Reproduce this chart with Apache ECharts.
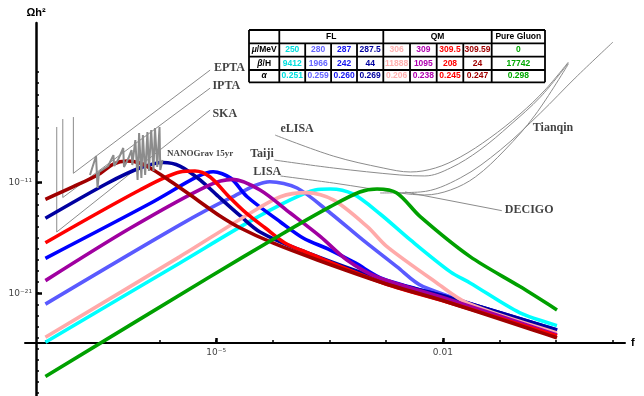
<!DOCTYPE html>
<html>
<head>
<meta charset="utf-8">
<script src="https://cdn.jsdelivr.net/npm/echarts@6/dist/echarts.min.js"></script>
<style>
  html, body { margin: 0; padding: 0; background: #fff; }
  #main { width: 644px; height: 396px; }
</style>
</head>
<body>
<div id="main"></div>
<script>
// every value below is a log10: x = log10(f), y = log10(Omega h^2)
const xTicks = [-7.25, -6.5, -5.75, -5, -4.25, -3.5, -2.75, -2, -1.25, -0.5, 0.25];
const xMajor = [-5, -2];
const yTicks = [-30, -29, -28, -27, -26, -25, -24, -23, -22, -21, -20, -19, -18, -17, -16,
  -15, -14, -13, -12, -11, -10, -9, -8, -7, -6, -5, -4, -3, -2, -1];
const yMajor = [-21, -11];

// FL
const cyan250 = [[-7.26,-25.43],[-5.48,-18.26],[-4.59,-14.64],[-4.02,-12.56],[-3.69,-11.66],[-3.49,-11.57],[-3.19,-12.02],[-2.83,-13.83],[-2.43,-16.18],[-1.90,-19.07],[-1.64,-20.07],[-0.98,-22.78],[-0.49,-23.93]];
const lblue280 = [[-7.26,-21.99],[-5.48,-14.82],[-4.81,-12.38],[-4.29,-10.91],[-3.93,-11.48],[-3.49,-13.74],[-3.06,-16.18],[-2.61,-18.59],[-2.26,-20.40],[-0.49,-24.41]];
const blue287 = [[-7.26,-17.84],[-5.87,-12.86],[-5.25,-10.46],[-5.04,-10.01],[-4.81,-10.58],[-4.59,-12.27],[-4.15,-14.55],[-3.85,-16.00],[-3.49,-17.09],[-3.16,-18.26],[-2.79,-19.71],[-1.90,-21.42],[-0.49,-24.32]];
const dblue2875 = [[-7.26,-14.22],[-6.44,-11.05],[-6.01,-9.67],[-5.70,-9.17],[-5.48,-9.49],[-5.21,-10.76],[-4.95,-12.38],[-4.68,-14.01],[-4.42,-15.46],[-3.89,-17.09],[-2.79,-19.80],[-1.90,-21.42],[-0.49,-24.32]];
// QM
const pink306 = [[-7.26,-24.98],[-5.48,-17.69],[-4.59,-13.92],[-4.15,-12.27],[-3.80,-11.90],[-3.45,-12.56],[-3.00,-14.98],[-2.74,-16.79],[-2.08,-20.07],[-1.68,-21.88],[-0.49,-24.59]];
const purple309 = [[-7.26,-19.86],[-6.14,-15.12],[-5.12,-11.30],[-4.78,-10.70],[-4.42,-11.66],[-4.02,-13.74],[-3.62,-15.88],[-3.27,-17.99],[-2.87,-19.53],[-1.90,-21.61],[-0.49,-24.77]];
const red3095 = [[-7.26,-16.43],[-6.01,-11.66],[-5.48,-10.03],[-5.28,-9.94],[-5.08,-10.48],[-4.84,-12.20],[-4.59,-13.83],[-4.35,-15.10],[-4.09,-16.45],[-3.82,-17.27],[-2.79,-20.07],[-1.90,-21.88],[-0.49,-24.86]];
const dred30959 = [[-7.26,-12.50],[-6.89,-11.36],[-6.57,-10.30],[-6.36,-9.31],[-6.18,-9.04],[-6.01,-9.22],[-5.83,-9.85],[-5.57,-11.03],[-5.25,-12.56],[-4.95,-14.01],[-4.68,-15.10],[-4.25,-16.45],[-3.66,-17.99],[-2.79,-20.07],[-1.90,-21.88],[-0.49,-25.04]];
// pure gluon
const green0 = [[-7.26,-28.54],[-5.11,-19.62],[-4.15,-15.73],[-3.49,-13.17],[-3.10,-11.84],[-2.87,-11.57],[-2.61,-11.93],[-2.30,-14.07],[-1.64,-17.69],[-0.98,-20.40],[-0.49,-22.51]];

// sensitivity curves
const epta = [[-6.89,-5.06],[-6.89,-10.15],[-5.08,-0.81]];
const ipta = [[-7.03,-5.24],[-7.03,-12.34],[-5.08,-2.44]];
const ska = [[-7.11,-5.96],[-7.11,-15.46],[-5.08,-4.43]];
const elisa = [[-4.22,-6.69],[-3.45,-8.59],[-2.79,-9.67],[-2.43,-10.03],[-2.10,-9.67],[-1.77,-8.68],[-1.38,-6.96],[-0.98,-4.79],[-0.65,-2.62],[-0.34,-0.09]];
const taiji = [[-4.23,-8.95],[-3.45,-9.67],[-2.57,-10.30],[-2.24,-10.39],[-1.90,-9.67],[-1.51,-8.04],[-1.11,-5.78],[-0.71,-3.25],[-0.34,-0.18]];
const lisa = [[-4.15,-10.39],[-3.45,-11.03],[-2.57,-11.93],[-2.24,-12.11],[-1.90,-11.66],[-1.57,-10.48],[-1.18,-8.04],[-0.78,-4.88],[-0.34,-0.27]];
const tianqin = [[-2.83,-11.93],[-2.30,-11.84],[-1.77,-10.57],[-1.24,-8.04],[-0.71,-4.70],[-0.25,-1.53],[0.25,1.72]];
const decigo = [[-2.50,-11.84],[-1.22,-13.53]];
const nanograv = [[-6.67,-10.30],[-6.59,-8.59],[-6.57,-11.48],[-6.55,-10.03],[-6.43,-9.49],[-6.36,-8.50],[-6.35,-9.49],[-6.30,-8.95],[-6.23,-7.86],[-6.22,-9.58],[-6.16,-8.77],[-6.12,-8.04],[-6.11,-9.40],[-6.07,-7.14],[-6.04,-10.76],[-6.02,-6.51],[-5.99,-10.57],[-5.97,-6.69],[-5.94,-10.30],[-5.91,-6.42],[-5.89,-9.94],[-5.86,-6.24],[-5.83,-9.94],[-5.81,-6.05],[-5.78,-9.58],[-5.75,-5.96],[-5.74,-9.85],[-5.71,-8.95]];

const labelNames = ['EPTA', 'IPTA', 'SKA', 'NANOGrav 15yr', 'eLISA', 'Taiji', 'LISA', 'Tianqin', 'DECIGO'];
const labelPos = [[-5.03,-0.63],[-5.05,-2.26],[-5.05,-4.79],[-5.65,-8.40],[-4.15,-6.14],[-4.55,-8.40],[-4.51,-10.03],[-0.81,-6.05],[-1.18,-13.47]];

// table
const rowHeads = ['{i|μ}/MeV', '{i|β}/H', '{i|α}'];
const tableMu = ['250', '280', '287', '287.5', '306', '309', '309.5', '309.59', '0'];
const tableBeta = ['9412', '1966', '242', '44', '11888', '1095', '208', '24', '17742'];
const tableAlpha = ['0.251', '0.259', '0.260', '0.269', '0.206', '0.238', '0.245', '0.247', '0.298'];
const tableColors = ['#00dede', '#6464ff', '#1414f0', '#0000a0', '#ffb0b0', '#b000b0', '#ff0000', '#a00000', '#00a800'];

const sup = { '-': '⁻', '0': '⁰', '1': '¹', '2': '²', '3': '³', '4': '⁴', '5': '⁵', '6': '⁶', '7': '⁷', '8': '⁸', '9': '⁹' };
const pow10 = v => '10' + String(v).split('').map(c => sup[c]).join('');

function curve(name, data, color) {
  return {
    name: name, type: 'line', data: data, smooth: 0.3,
    symbol: 'none', lineStyle: { color: color, width: 3.6 }, z: 3, silent: true
  };
}
function sens(name, data, smooth) {
  return {
    name: name, type: 'line', data: data, smooth: smooth ? 0.35 : false,
    symbol: 'none', lineStyle: { color: '#8c8c8c', width: 1 }, z: 2, silent: true
  };
}

// table drawn with graphic elements
const colX = [249, 279.3, 305.2, 331.1, 357, 383.3, 410, 436.7, 463.3, 491.7, 545];
const rowY = [30, 43.3, 56.7, 70, 82.3];
const tableEls = [{ type: 'rect', shape: { x: colX[0], y: rowY[0], width: colX[10] - colX[0], height: rowY[4] - rowY[0] }, style: { fill: '#fff' } }];
const cellFont = 'bold 8.5px "Liberation Sans", Arial, sans-serif';
rowY.forEach(y => tableEls.push({ type: 'line', shape: { x1: colX[0], y1: y, x2: colX[10], y2: y }, style: { stroke: '#000', lineWidth: 1.8 } }));
colX.forEach((x, i) => {
  const full = [0, 1, 5, 9, 10].indexOf(i) >= 0;
  tableEls.push({ type: 'line', shape: { x1: x, y1: full ? rowY[0] : rowY[1], x2: x, y2: rowY[4] }, style: { stroke: '#000', lineWidth: 1.8 } });
});
[['FL', 1, 5], ['QM', 5, 9], ['Pure Gluon', 9, 10]].forEach(h => {
  tableEls.push({ type: 'text', x: (colX[h[1]] + colX[h[2]]) / 2, y: (rowY[0] + rowY[1]) / 2,
    style: { text: h[0], font: cellFont, fill: '#000', align: 'center', verticalAlign: 'middle' } });
});
[tableMu, tableBeta, tableAlpha].forEach((row, r) => {
  const cy = (rowY[r + 1] + rowY[r + 2]) / 2;
  tableEls.push({ type: 'text', x: (colX[0] + colX[1]) / 2, y: cy,
    style: { text: rowHeads[r], font: cellFont, fill: '#000', align: 'center', verticalAlign: 'middle',
      rich: { i: { font: 'italic bold 8.5px "Liberation Sans", Arial, sans-serif', fill: '#000' } } } });
  row.forEach((t, c) => {
    tableEls.push({ type: 'text', x: (colX[c + 1] + colX[c + 2]) / 2, y: cy,
      style: { text: t, font: cellFont, fill: tableColors[c], align: 'center', verticalAlign: 'middle' } });
  });
});

const MyChart = echarts.init(document.getElementById('main'));
const option = {
  animation: false,
  backgroundColor: '#fff',
  grid: { left: 25, right: 19, top: 23, bottom: 0, containLabel: false },
  xAxis: [{
    type: 'value', min: -7.53, max: 0.41, position: 'bottom', offset: -53,
    axisLine: { show: true, onZero: false, lineStyle: { color: '#000', width: 2 } },
    axisTick: { show: true, inside: true, length: 3, customValues: xTicks, lineStyle: { color: '#000', width: 1.5 } },
    axisLabel: { show: true, customValues: xMajor, margin: 5, color: '#444', fontSize: 9, fontFamily: 'DejaVu Sans',
      formatter: v => (v === -2 ? '0.01' : pow10(v)) },
    splitLine: { show: false },
    name: 'f', nameLocation: 'end', nameGap: 6,
    nameTextStyle: { color: '#000', fontSize: 11, fontWeight: 'bold', fontFamily: 'Liberation Sans', verticalAlign: 'middle' }
  }, {
    type: 'value', min: -7.53, max: 0.41, position: 'bottom', offset: -53,
    axisLine: { show: false, onZero: false },
    axisTick: { show: true, inside: true, length: 5, customValues: xMajor, lineStyle: { color: '#000', width: 2.5 } },
    axisLabel: { show: false }, splitLine: { show: false }
  }],
  yAxis: [{
    type: 'value', min: -30.3, max: 3.45, position: 'left', offset: -11,
    axisLine: { show: true, onZero: false, lineStyle: { color: '#000', width: 2.5 } },
    axisTick: { show: true, inside: true, length: 3, customValues: yTicks, lineStyle: { color: '#000', width: 1.5 } },
    axisLabel: { show: true, customValues: yMajor, margin: 4, color: '#444', fontSize: 9, fontFamily: 'DejaVu Sans',
      formatter: v => pow10(v) },
    splitLine: { show: false },
    name: 'Ωh²', nameLocation: 'end', nameGap: 5,
    nameTextStyle: { color: '#000', fontSize: 11, fontWeight: 'bold', fontFamily: 'Liberation Sans' }
  }, {
    type: 'value', min: -30.3, max: 3.45, position: 'left', offset: -11,
    axisLine: { show: false, onZero: false },
    axisTick: { show: true, inside: true, length: 6, customValues: yMajor, lineStyle: { color: '#000', width: 2.5 } },
    axisLabel: { show: false }, splitLine: { show: false }
  }],
  series: [
    sens('EPTA', epta, false),
    sens('IPTA', ipta, false),
    sens('SKA', ska, false),
    sens('eLISA', elisa, true),
    sens('Taiji', taiji, true),
    sens('LISA', lisa, true),
    sens('Tianqin', tianqin, true),
    sens('DECIGO', decigo, false),
    curve('FL 250', cyan250, '#00ffff'),
    curve('FL 280', lblue280, '#5a5aff'),
    curve('FL 287', blue287, '#0000ff'),
    curve('FL 287.5', dblue2875, '#0000a0'),
    curve('QM 306', pink306, '#ffaaaa'),
    curve('QM 309', purple309, '#a000a0'),
    curve('QM 309.5', red3095, '#ff0000'),
    curve('QM 309.59', dred30959, '#a00000'),
    curve('Pure Gluon', green0, '#00a000'),
    {
      name: 'NANOGrav 15yr', type: 'line', data: nanograv, symbol: 'none', smooth: false,
      lineStyle: { color: '#8c8c8c', width: 2 }, z: 4, silent: true
    },
    {
      type: 'scatter', symbolSize: 0, z: 5, silent: true,
      data: labelNames.map((n, i) => ({
        name: n, value: labelPos[i],
        label: n === 'NANOGrav 15yr' ? { fontSize: 9 } : {}
      })),
      label: { show: true, position: 'right', distance: 0, formatter: '{b}', color: '#111',
        fontFamily: 'Liberation Serif', fontWeight: 'bold', fontSize: 12 }
    }
  ],
  graphic: [{ type: 'group', z: 100, children: tableEls }]
};
MyChart.setOption(option);
</script>
</body>
</html>
